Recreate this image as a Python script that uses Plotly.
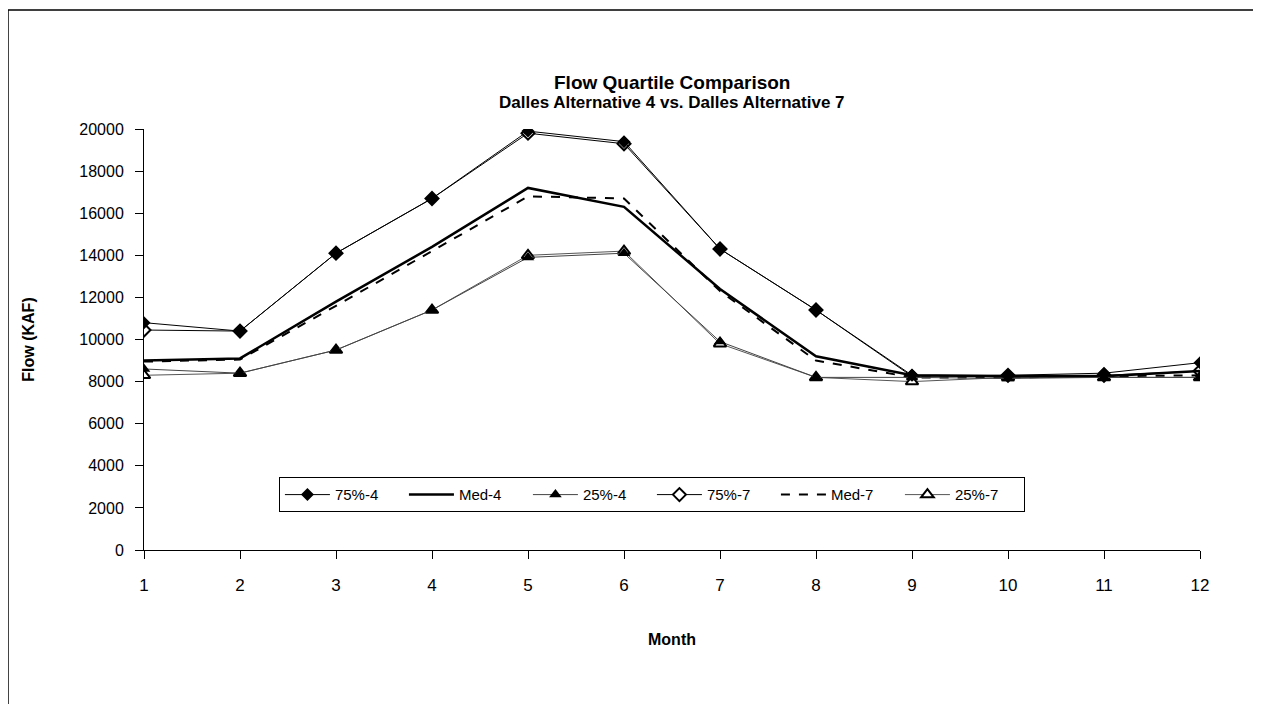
import plotly.graph_objects as go

# dati (KAF)
mesi = list(range(1, 13))
q75_alt4 = [10800, 10400, 14100, 16700, 19900, 19400, 14300, 11400, 8300, 8300, 8400, 8900]
med_alt4 = [9000, 9100, 11800, 14400, 17200, 16300, 12400, 9200, 8300, 8250, 8250, 8500]
q25_alt4 = [8600, 8400, 9500, 11400, 13900, 14100, 9900, 8200, 8200, 8150, 8200, 8200]
q75_alt7 = [10450, 10400, 14100, 16700, 19800, 19300, 14300, 11400, 8250, 8300, 8300, 8500]
med_alt7 = [8950, 9050, 11600, 14200, 16800, 16700, 12300, 9000, 8200, 8200, 8250, 8300]
q25_alt7 = [8300, 8400, 9500, 11400, 14000, 14200, 9800, 8200, 8000, 8200, 8200, 8200]

FONT = "Liberation Sans, Arial, sans-serif"

fig = go.Figure()
# alternativa 7 disegnata sotto, alternativa 4 sopra (legenda ordinata con legendrank)
fig.add_trace(go.Scatter(
    x=mesi, y=q75_alt7, name="75%-7", mode="lines+markers", legendrank=4,
    line=dict(color="black", width=1),
    marker=dict(symbol="diamond", size=10, color="white", line=dict(color="black", width=2)),
))
fig.add_trace(go.Scatter(
    x=mesi, y=med_alt7, name="Med-7", mode="lines", legendrank=5,
    line=dict(color="black", width=2, dash="dash"),
))
fig.add_trace(go.Scatter(
    x=mesi, y=q25_alt7, name="25%-7", mode="lines+markers", legendrank=6,
    line=dict(color="#555555", width=1),
    marker=dict(symbol="triangle-up", size=11, color="white", line=dict(color="black", width=2)),
))
fig.add_trace(go.Scatter(
    x=mesi, y=q75_alt4, name="75%-4", mode="lines+markers", legendrank=1,
    line=dict(color="black", width=1),
    marker=dict(symbol="diamond", size=10, color="black"),
))
fig.add_trace(go.Scatter(
    x=mesi, y=med_alt4, name="Med-4", mode="lines", legendrank=2,
    line=dict(color="black", width=2.5),
))
fig.add_trace(go.Scatter(
    x=mesi, y=q25_alt4, name="25%-4", mode="lines+markers", legendrank=3,
    line=dict(color="#444444", width=1),
    marker=dict(symbol="triangle-up", size=11, color="black"),
))

fig.update_layout(
    width=1253, height=698,
    paper_bgcolor="white", plot_bgcolor="white",
    margin=dict(l=136, r=61, t=121, b=156),
    font=dict(family=FONT, size=16, color="black"),
    legend=dict(
        orientation="h", x=0.481, y=0.131, xanchor="center", yanchor="middle",
        bordercolor="black", borderwidth=1, bgcolor="white",
        font=dict(size=15), itemwidth=45,
        entrywidth=64, entrywidthmode="pixels",
    ),
    showlegend=True,
)
fig.add_annotation(text="<b>Flow Quartile Comparison</b>", xref="paper", yref="paper",
                   x=0.5, y=1.1116, showarrow=False, font=dict(size=19),
                   xanchor="center", yanchor="middle")
fig.add_annotation(text="<b>Dalles Alternative 4 vs. Dalles Alternative 7</b>",
                   xref="paper", yref="paper", x=0.5, y=1.0618, showarrow=False,
                   font=dict(size=17), xanchor="center", yanchor="middle")

fig.update_xaxes(
    range=[1, 12], tickvals=mesi, showgrid=False, zeroline=False,
    showline=True, linecolor="black", linewidth=1, automargin=False,
    ticks="outside", ticklen=8, tickcolor="black", ticklabelstandoff=12,
    tickfont=dict(size=17),
    title=dict(text="<b>Month</b>", font=dict(size=16), standoff=39),
)
fig.update_yaxes(
    range=[0, 20000], dtick=2000, tickformat="d", showgrid=False, zeroline=False,
    showline=True, linecolor="black", linewidth=1, automargin=False,
    ticks="outside", ticklen=8, tickcolor="black", ticklabelstandoff=8,
    title=dict(text="<b>Flow (KAF)</b>", font=dict(size=16), standoff=40),
)
# cornice attorno al grafico (sinistra, alto, destra)
fig.add_shape(type="path", xref="paper", yref="paper",
              path="M -0.1288 -0.366 L -0.1288 1.2827 L 1.0559 1.2827 L 1.0559 -0.366",
              line=dict(color="black", width=1.5))

fig.write_html("out.html")
